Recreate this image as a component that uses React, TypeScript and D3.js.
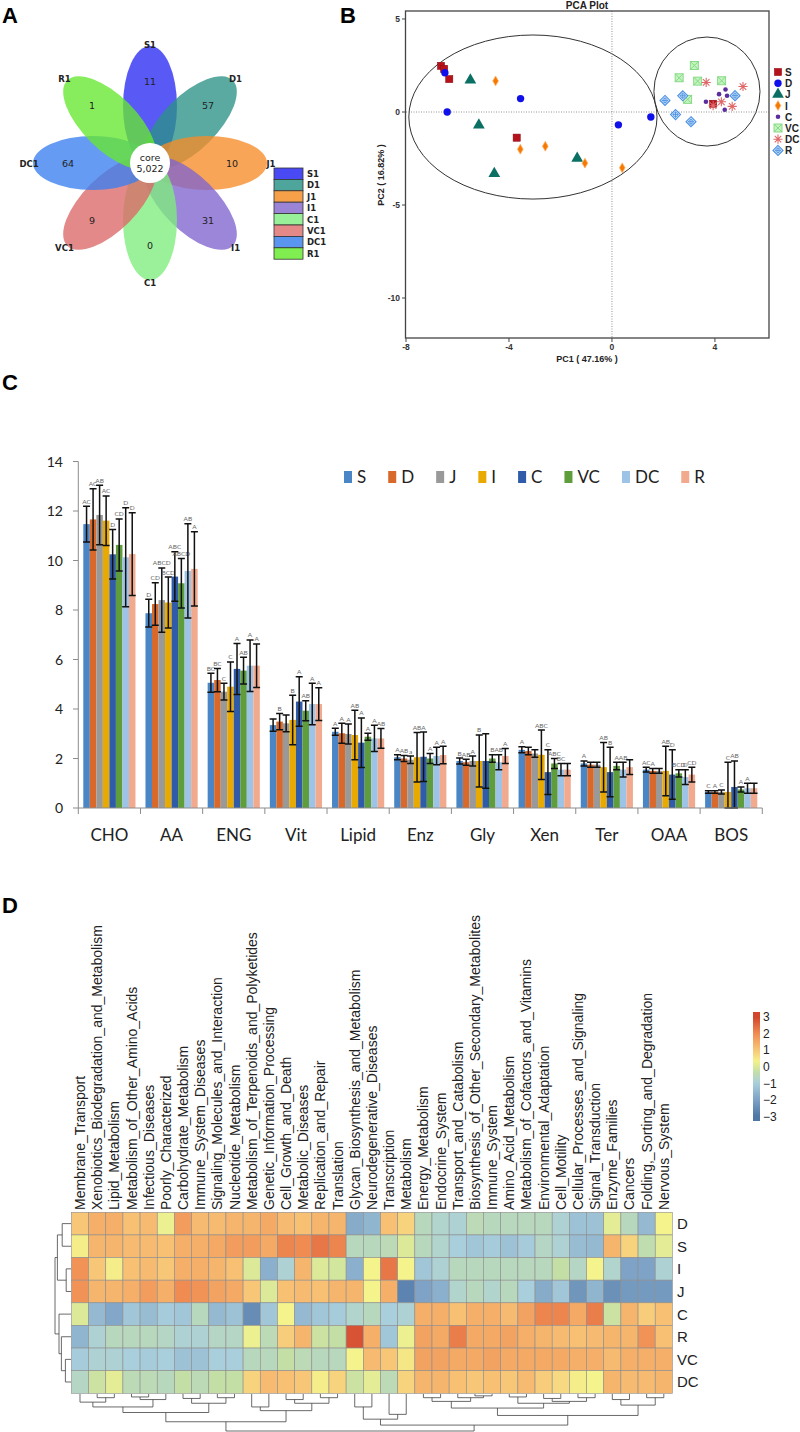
import React from 'react';
import * as d3 from 'd3';

// ---------------- Panel A: flower Venn ----------------
const vennSets = ['S1', 'D1', 'J1', 'I1', 'C1', 'VC1', 'DC1', 'R1'];
const vennUnique = [11, 57, 10, 31, 0, 9, 64, 1];
const vennPetalColors = ['#2a2af4', '#2c9288', '#f68c28', '#8064ce', '#7eed7c', '#dc6868', '#3a7ff0', '#66e830'];
const vennLegendColors = ['#4a4af5', '#4ea59c', '#f7a04a', '#9b84d6', '#98f098', '#e48888', '#5a96f0', '#80ee50'];
const vennCoreLabel = 'core';
const vennCoreCount = '5,022';

// ---------------- Panel B: PCA ----------------
const pcaGroups = ['S', 'D', 'J', 'I', 'C', 'VC', 'DC', 'R'];
const pcaS = [[-6.64, 2.48], [-6.52, 2.32], [-6.32, 1.77], [-3.70, -1.38], [3.93, 0.44]];
const pcaD = [[-6.49, 2.11], [-6.40, 0.0], [-3.55, 0.72], [0.25, -0.69], [1.51, -0.27]];
const pcaJ = [[-5.50, 1.72], [-5.17, -0.70], [-4.57, -3.31], [-1.35, -2.49]];
const pcaI = [[-4.52, 1.67], [-3.56, -2.0], [-2.59, -1.84], [-1.05, -2.75], [0.40, -3.0]];
const pcaC = [[3.65, 0.55], [4.16, 0.96], [4.41, 1.21], [4.47, 0.87], [4.38, 0.12]];
const pcaVC = [[3.20, 2.50], [2.61, 1.84], [3.33, 1.66], [4.26, 1.68], [2.94, 0.68]];
const pcaDC = [[3.66, 1.59], [5.09, 1.37], [4.25, 0.55], [4.67, 0.30], [3.93, 0.34]];
const pcaR = [[2.06, 0.62], [2.75, 0.87], [2.47, -0.14], [3.07, -0.52], [4.78, 0.88]];
const pcaPoints = [pcaS, pcaD, pcaJ, pcaI, pcaC, pcaVC, pcaDC, pcaR];
const pcaXTicks = [-8, -4, 0, 4];
const pcaYTicks = [5, 0, -5, -10];
const ellipseCx = [-3.07, 3.69];
const ellipseCy = [-0.27, 1.10];
const ellipseRx = [4.82, 2.06];
const ellipseRy = [4.41, 2.93];

// ---------------- Panel C: bars ----------------
const barCategories = ['CHO', 'AA', 'ENG', 'Vit', 'Lipid', 'Enz', 'Gly', 'Xen', 'Ter', 'OAA', 'BOS'];
const barSeries = ['S', 'D', 'J', 'I', 'C', 'VC', 'DC', 'R'];
const barColors = ['#4a86c5', '#d9692a', '#999999', '#e8a900', '#2f5ba8', '#5e9c3c', '#9dc3e6', '#f2aa8e'];
const meanS = [11.47, 7.87, 5.06, 3.35, 3.08, 2.05, 1.90, 2.35, 1.80, 1.55, 0.65];
const meanD = [11.66, 8.24, 5.17, 3.49, 3.02, 2.00, 1.85, 2.30, 1.75, 1.50, 0.65];
const meanJ = [11.84, 8.40, 4.70, 3.42, 2.99, 1.95, 1.90, 2.20, 1.75, 1.50, 0.65];
const meanI = [11.61, 8.30, 4.90, 3.56, 2.95, 2.05, 1.90, 2.15, 1.65, 1.50, 0.65];
const meanC = [10.25, 9.35, 5.62, 4.30, 2.64, 2.07, 1.90, 1.45, 1.45, 1.35, 0.85];
const meanVC = [10.63, 9.08, 5.55, 3.93, 2.88, 2.00, 2.00, 1.80, 1.70, 1.40, 0.75];
const meanDC = [10.13, 9.58, 5.75, 4.20, 2.81, 2.10, 1.85, 1.55, 1.55, 1.25, 0.80];
const meanR = [10.26, 9.66, 5.75, 4.20, 2.81, 2.14, 2.10, 1.55, 1.65, 1.35, 0.80];
const errS = [0.72, 0.56, 0.38, 0.25, 0.14, 0.10, 0.12, 0.12, 0.10, 0.10, 0.05];
const errD = [1.24, 0.86, 0.47, 0.33, 0.40, 0.12, 0.12, 0.15, 0.10, 0.10, 0.05];
const errJ = [1.20, 1.30, 0.34, 0.34, 0.40, 0.15, 0.20, 0.15, 0.10, 0.10, 0.08];
const errI = [1.00, 1.03, 1.00, 1.00, 1.00, 1.00, 1.05, 1.00, 1.00, 1.00, 1.20];
const errC = [1.00, 1.00, 1.03, 1.00, 1.00, 1.00, 1.10, 0.90, 1.00, 1.00, 1.05];
const errVC = [1.05, 1.00, 0.54, 0.40, 0.14, 0.20, 0.15, 0.20, 0.15, 0.15, 0.10];
const errDC = [2.00, 1.90, 1.04, 0.84, 0.53, 0.35, 0.30, 0.25, 0.30, 0.30, 0.20];
const errR = [1.67, 1.50, 0.88, 0.66, 0.40, 0.35, 0.30, 0.25, 0.30, 0.30, 0.20];
const letS = ['AC', 'D', 'BC', '', 'A', 'A', 'B', 'A', 'A', 'AC', 'C'];
const letD = ['AC', 'CD', 'BC', 'B', 'A', 'AB', 'AB', '', '', 'A', 'A'];
const letJ = ['AB', 'ABCD', 'C', '', 'A', 'a', 'A', '', '', '', 'C'];
const letI = ['AC', 'BCD', 'C', 'B', 'AB', 'AB', 'B', 'ABC', 'AB', 'AB', 'C'];
const letC = ['D', 'ABC', 'A', 'A', 'A', 'A', '', 'C', 'B', 'D', 'AB'];
const letVC = ['CD', 'ABCD', 'AB', 'AB', 'A', 'A', 'B', 'ABC', 'A', 'BCD', 'A'];
const letDC = ['D', 'AB', 'A', 'A', 'A', 'A', 'AB', 'BC', 'AB', 'D', 'A'];
const letR = ['D', 'A', 'A', 'A', 'AB', 'A', 'A', '', '', 'CD', ''];
const barMeans = [meanS, meanD, meanJ, meanI, meanC, meanVC, meanDC, meanR];
const barErrs = [errS, errD, errJ, errI, errC, errVC, errDC, errR];
const barLetters = [letS, letD, letJ, letI, letC, letVC, letDC, letR];
const barYTicks = [0, 2, 4, 6, 8, 10, 12, 14];

// ---------------- Panel D: heatmap ----------------
const heatColumns = [
  'Membrane_Transport', 'Xenobiotics_Biodegradation_and_Metabolism', 'Lipid_Metabolism',
  'Metabolism_of_Other_Amino_Acids', 'Infectious_Diseases', 'Poorly_Characterized',
  'Carbohydrate_Metabolism', 'Immune_System_Diseases', 'Signaling_Molecules_and_Interaction',
  'Nucleotide_Metabolism', 'Metabolism_of_Terpenoids_and_Polyketides', 'Genetic_Information_Processing',
  'Cell_Growth_and_Death', 'Metabolic_Diseases', 'Replication_and_Repair', 'Translation',
  'Glycan_Biosynthesis_and_Metabolism', 'Neurodegenerative_Diseases', 'Transcription', 'Metabolism',
  'Energy_Metabolism', 'Endocrine_System', 'Transport_and_Catabolism',
  'Biosynthesis_of_Other_Secondary_Metabolites', 'Immune_System', 'Amino_Acid_Metabolism',
  'Metabolism_of_Cofactors_and_Vitamins', 'Environmental_Adaptation', 'Cell_Motility',
  'Cellular_Processes_and_Signaling', 'Signal_Transduction', 'Enzyme_Families', 'Cancers',
  'Folding,_Sorting_and_Degradation', 'Nervous_System'
];
const heatRows = ['D', 'S', 'I', 'J', 'C', 'R', 'VC', 'DC'];
const heatD = [1.0, 1.4, 1.4, 1.1, 1.2, 0.2, 1.7, 1.2, 1.2, 1.3, 1.3, 1.5, 1.2, 1.1, 1.3, 1.3, -1.8, -1.6, 1.1, 0.8, -0.6, -0.8, -0.9, -0.5, -0.6, -0.6, -0.6, -0.6, -0.9, -1.3, -1.3, 0.1, -0.6, -1.5, 0.3];
const heatS = [0.4, 1.3, 1.3, 1.2, 1.2, 1.1, 1.4, 1.4, 1.5, 1.7, 1.7, 1.5, 2.1, 2.0, 2.3, 2.1, -0.6, -0.6, -0.5, 0.0, -0.6, -0.8, -1.0, -1.2, -1.1, -1.3, -1.1, -0.7, -0.9, -1.4, -1.5, 1.3, 0.8, -0.4, 0.1];
const heatI = [1.9, 1.0, 0.4, 1.1, 1.2, 1.0, 1.4, 1.4, 1.3, 1.1, 0.0, -1.7, -0.9, 1.3, 0.0, -0.1, -1.7, 0.3, 2.3, 0.3, -1.2, -0.9, -0.6, -0.6, -0.6, -0.6, -0.6, -0.6, -0.3, -0.7, 0.3, -0.8, -2.0, -2.0, -0.9];
const heatJ = [1.9, 1.3, 1.3, 1.4, 1.7, 1.4, 2.0, 1.9, 1.6, 1.5, 1.0, 0.0, 1.1, 1.2, 1.1, 1.3, 1.3, 0.3, 1.4, -2.7, -2.0, -1.7, -0.8, -0.6, -0.8, -0.6, -1.0, -1.8, -1.2, -2.3, -1.6, -2.4, -2.2, -2.2, -2.2];
const heatC = [0.0, -1.5, -1.9, -1.2, -1.4, -1.1, -1.2, -0.6, -1.5, -1.3, -2.5, -1.2, 0.3, -1.5, -1.2, -1.1, -0.8, -0.6, -1.0, -0.9, 1.4, 1.4, 1.1, 1.4, 1.4, 1.2, 1.6, 2.1, 2.1, 1.5, 2.2, -0.2, 1.3, 0.9, 1.1];
const heatR = [-1.6, -0.9, -0.6, -0.6, -0.6, -0.7, -0.9, -0.9, -0.7, -0.7, 0.2, -0.5, 0.9, 1.3, -0.2, -0.3, 2.8, 1.4, -1.2, 0.2, 1.6, 1.5, 2.2, 1.5, 1.5, 1.6, 1.4, 1.3, 1.2, 1.1, 1.2, 1.3, 1.3, 1.9, 1.1];
const heatVC = [-1.1, -0.9, -0.9, -1.0, -1.1, -1.0, -1.3, -1.3, -1.0, -1.0, -0.6, -0.6, -0.3, -0.5, -0.6, -0.6, 0.3, 1.2, 1.0, 0.5, 1.6, 1.6, 1.5, 1.5, 1.6, 1.5, 1.5, 1.5, 1.5, 1.4, 1.4, 1.2, 1.4, 1.4, 1.4];
const heatDC = [-0.7, -0.2, 0.1, -0.5, -0.5, -0.6, -0.3, -0.5, -0.3, -0.3, 0.8, 1.2, 1.1, 1.0, 0.4, 0.8, -0.2, 0.1, -0.5, 0.8, 1.3, 1.3, 1.1, 1.0, 1.1, 1.0, 1.2, 0.9, 0.7, 0.4, 0.3, 1.3, 1.2, 1.2, 1.3];
const heatValues = [heatD, heatS, heatI, heatJ, heatC, heatR, heatVC, heatDC];
const heatStops = [-3, -2, -1, -0.3, 0.3, 1, 2, 3];
const heatPalette = ['#4f77a6', '#7ea3c6', '#aacfdc', '#c3dfa6', '#f4f38c', '#f8c677', '#f08c52', '#d1452b'];
const heatLegendTicks = [3, 2, 1, 0, -1, -2, -3];
// dendrograms: [left, right, height]
type TNode = number | [TNode, TNode, number];
const rowTree: TNode = [[[0, 1, 0.55], [2, 3, 0.3], 0.85], [4, [5, [6, 7, 0.35], 0.6], 0.75], 1.0];
const colTree: TNode = [
  [
    [[[0, [1, 2, 0.1], 0.22], [[3, 4, 0.08], 5, 0.15], 0.35], [[6, 7, 0.12], [8, 9, 0.1], 0.25], 0.5],
    [[10, 11, 0.35], [[12, 13, 0.15], [14, 15, 0.1], 0.25], 0.45],
    0.75
  ],
  [
    [[16, 17, 0.35], [18, 19, 0.55], 0.68],
    [
      [[[20, 21, 0.1], [22, [23, 24, 0.05], 0.1], 0.2], [[25, 26, 0.08], [[27, 28, 0.12], [29, 30, 0.1], 0.2], 0.25], 0.38],
      [[31, 32, 0.15], [33, 34, 0.1], 0.3],
      0.58
    ],
    0.84
  ],
  1.0
];

const FONT_B = 'Liberation Sans, Arial, sans-serif';
const FONT_C = 'Lato, Open Sans, sans-serif';
const FONT_V = 'DejaVu Sans, Verdana, sans-serif';

let _ctx: CanvasRenderingContext2D | null = null;
function textW(s: string, font: string) {
  if (!_ctx) _ctx = document.createElement('canvas').getContext('2d');
  if (!_ctx) return s.length * 8;
  _ctx.font = font;
  return _ctx.measureText(s).width;
}

function layoutTree(node: TNode, leafPos: (i: number) => number, hPos: (h: number) => number,
  paths: string[], orient: 'v' | 'h'): { p: number; q: number } {
  if (typeof node === 'number') return { p: leafPos(node), q: hPos(0) };
  const l = layoutTree(node[0], leafPos, hPos, paths, orient);
  const r = layoutTree(node[1], leafPos, hPos, paths, orient);
  const q = hPos(node[2]);
  const p = (l.p + r.p) / 2;
  if (orient === 'v') paths.push(`M${l.p},${l.q}V${q}H${r.p}V${r.q}`);
  else paths.push(`M${l.q},${l.p}H${q}V${r.p}H${r.q}`);
  return { p, q };
}

function PanelA() {
  const cx = 150, cy = 163;
  const a = 60, b = 27, d = 57;
  const ang = (i: number) => -90 + 45 * i;
  const rad = (deg: number) => (deg * Math.PI) / 180;
  return (
    <g>
      <text x={2} y={23} fontFamily={FONT_B} fontWeight="bold" fontSize={22}>A</text>
      {vennSets.map((s, i) => {
        const t = ang(i);
        const ex = cx + d * Math.cos(rad(t));
        const ey = cy + d * Math.sin(rad(t));
        return (
          <ellipse key={s} cx={ex} cy={ey} rx={a} ry={b} transform={`rotate(${t},${ex},${ey})`}
            fill={vennPetalColors[i]} fillOpacity={0.78} />
        );
      })}
      <circle cx={cx} cy={cy} r={20} fill="#fff" />
      <text x={cx} y={cy - 2} textAnchor="middle" fontFamily={FONT_V} fontSize={9.5} fill="#222">{vennCoreLabel}</text>
      <text x={cx} y={cy + 9} textAnchor="middle" fontFamily={FONT_V} fontSize={9.5} fill="#222">{vennCoreCount}</text>
      {vennSets.map((s, i) => {
        const t = rad(ang(i));
        const nx = cx + 82 * Math.cos(t);
        const ny = cy + 82 * Math.sin(t);
        const lx = cx + 121 * Math.cos(t);
        const ly = cy + 119 * Math.sin(t);
        return (
          <g key={'t' + s}>
            <text x={nx} y={ny + 3.5} textAnchor="middle" fontFamily={FONT_V} fontSize={9.5} fill="#222">{vennUnique[i]}</text>
            <text x={lx} y={ly + 3.5} textAnchor="middle" fontFamily={FONT_V} fontWeight="bold" fontSize={8.5} fill="#222">{s}</text>
          </g>
        );
      })}
      {vennSets.map((s, i) => (
        <g key={'l' + s}>
          <rect x={274} y={168 + i * 11.4} width={29} height={11.4} fill={vennLegendColors[i]} stroke="#333" strokeWidth={0.8} />
          <text x={307} y={168 + i * 11.4 + 9} fontFamily={FONT_V} fontWeight="bold" fontSize={8.5} fill="#222">{s}</text>
        </g>
      ))}
    </g>
  );
}

function pcaMarker(g: string, x: number, y: number, key: string) {
  switch (g) {
    case 'S':
      return <rect key={key} x={x - 3.6} y={y - 3.6} width={7.2} height={7.2} fill="#b5121b" stroke="#8a0a12" strokeWidth={0.5} />;
    case 'D':
      return <circle key={key} cx={x} cy={y} r={3.7} fill="#1010ea" />;
    case 'J':
      return <path key={key} d={d3.symbol(d3.symbolTriangle, 60)() || ''} transform={`translate(${x},${y})`} fill="#0b7064" />;
    case 'I':
      return <path key={key} d={d3.symbol(d3.symbolDiamond, 28)() || ''} transform={`translate(${x},${y})`} fill="#f57900" stroke="#ffb36b" strokeWidth={0.8} />;
    case 'C':
      return <circle key={key} cx={x} cy={y} r={2.3} fill="#5b2d9e" />;
    case 'VC':
      return (
        <g key={key}>
          <rect x={x - 4} y={y - 4} width={8} height={8} fill="#c5f3c0" stroke="#7fd87f" strokeWidth={0.9} />
          <path d={`M${x - 4},${y - 4}L${x + 4},${y + 4}M${x - 4},${y + 4}L${x + 4},${y - 4}`} stroke="#7fd87f" strokeWidth={0.9} />
        </g>
      );
    case 'DC': {
      const r = 4.6;
      const segs = d3.range(4).map((k) => {
        const t = (k * Math.PI) / 4;
        return `M${x - r * Math.cos(t)},${y - r * Math.sin(t)}L${x + r * Math.cos(t)},${y + r * Math.sin(t)}`;
      }).join('');
      return <path key={key} d={segs} stroke="#e06868" strokeWidth={1.1} />;
    }
    case 'R':
      return (
        <g key={key}>
          <path d={`M${x},${y - 5}L${x + 5},${y}L${x},${y + 5}L${x - 5},${y}Z`} fill="#e2efff" stroke="#4a90e2" strokeWidth={1.1} />
          <path d={`M${x},${y - 3.2}V${y + 3.2}M${x - 3.2},${y}H${x + 3.2}`} stroke="#4a90e2" strokeWidth={0.9} />
          <circle cx={x} cy={y} r={2.2} fill="none" stroke="#4a90e2" strokeWidth={0.8} />
        </g>
      );
    default:
      return null;
  }
}

function PanelB() {
  const x = d3.scaleLinear().domain([-8, 6.1]).range([406, 769]);
  const y = d3.scaleLinear().domain([-12.15, 5.43]).range([338, 11]);
  const [x0, x1] = x.range();
  const [y0, y1] = y.range();
  return (
    <g fontFamily={FONT_B}>
      <text x={340} y={23} fontWeight="bold" fontSize={22}>B</text>
      <text x={587} y={9} textAnchor="middle" fontWeight="bold" fontSize={10} fill="#222">PCA Plot</text>
      {ellipseCx.map((c, i) => (
        <ellipse key={'e' + i} cx={x(c)} cy={y(ellipseCy[i])}
          rx={x(c + ellipseRx[i]) - x(c)} ry={y(ellipseCy[i]) - y(ellipseCy[i] + ellipseRy[i])}
          fill="none" stroke="#333" strokeWidth={1} />
      ))}
      <line x1={x(0)} x2={x(0)} y1={y1} y2={y0} stroke="#777" strokeWidth={0.8} strokeDasharray="1,1.5" />
      <line x1={x0} x2={x1} y1={y(0)} y2={y(0)} stroke="#777" strokeWidth={0.8} strokeDasharray="1,1.5" />
      {pcaGroups.map((g, gi) => pcaPoints[gi].map((p, pi) => pcaMarker(g, x(p[0]), y(p[1]), `${g}${pi}`)))}
      <rect x={x0 - 0.5} y={y1} width={x1 - x0 + 0.5} height={y0 - y1} fill="none" stroke="#444" strokeWidth={1.3} />
      {pcaYTicks.map((t) => (
        <g key={'yt' + t}>
          <line x1={x0 - 4} x2={x0} y1={y(t)} y2={y(t)} stroke="#444" />
          <text x={x0 - 6} y={y(t) + 3} textAnchor="end" fontWeight="bold" fontSize={8.5} fill="#333">{t}</text>
        </g>
      ))}
      {pcaXTicks.map((t) => (
        <g key={'xt' + t}>
          <line x1={x(t)} x2={x(t)} y1={y0} y2={y0 + 4} stroke="#444" />
          <text x={x(t)} y={y0 + 12} textAnchor="middle" fontWeight="bold" fontSize={8.5} fill="#333">{t}</text>
        </g>
      ))}
      <text x={587} y={362} textAnchor="middle" fontWeight="bold" fontSize={9} fill="#222">PC1 ( 47.16% )</text>
      <text transform="translate(384,175) rotate(-90)" textAnchor="middle" fontWeight="bold" fontSize={9} fill="#222">PC2 ( 16.82% )</text>
      {pcaGroups.map((g, i) => (
        <g key={'lg' + g}>
          {pcaMarker(g, 778, 72 + i * 11.2, 'lm' + g)}
          <text x={785} y={72 + i * 11.2 + 4} fontWeight="bold" fontSize={10} fill="#222">{g}</text>
        </g>
      ))}
    </g>
  );
}

function PanelC() {
  const xc = d3.scaleBand().domain(barCategories).range([78.3, 762.3]).padding(0);
  const xs = d3.scaleBand().domain(barSeries).range([5, xc.bandwidth() - 5]).padding(0);
  const y = d3.scaleLinear().domain([0, 14]).range([808, 461.5]);
  const axisColor = '#8c8c8c';
  const legendFont = `17px ${FONT_C}`;
  let lx = 344;
  const legendItems = barSeries.map((s, i) => {
    const item = { s, i, x: lx };
    lx += 13 + textW(s, legendFont) + 22;
    return item;
  });
  return (
    <g fontFamily={FONT_C}>
      <text x={2} y={390} fontFamily={FONT_B} fontWeight="bold" fontSize={22}>C</text>
      {barYTicks.map((t) => (
        <g key={'yt' + t}>
          <line x1={73} x2={78.3} y1={y(t)} y2={y(t)} stroke={axisColor} />
          <text x={63} y={y(t) + 5} textAnchor="end" fontSize={14} fill="#222">{t}</text>
        </g>
      ))}
      {barCategories.map((c, ci) => (
        <g key={c}>
          {barSeries.map((s, si) => {
            const bx = (xc(c) || 0) + (xs(s) || 0);
            const bw = xs.bandwidth();
            const m = barMeans[si][ci];
            return (
              <rect key={s} x={bx} y={y(m)} width={bw} height={y(0) - y(m)} fill={barColors[si]} />
            );
          })}
        </g>
      ))}
      {barCategories.map((c, ci) => (
        <g key={'e' + c}>
          {barSeries.map((s, si) => {
            const cxp = (xc(c) || 0) + (xs(s) || 0) + xs.bandwidth() / 2;
            const m = barMeans[si][ci];
            const e = barErrs[si][ci];
            const top = y(m + e);
            const bot = y(Math.max(0, m - e));
            const lt = barLetters[si][ci];
            return (
              <g key={s}>
                <path d={`M${cxp},${top}V${bot}M${cxp - 3.5},${top}H${cxp + 3.5}M${cxp - 3.5},${bot}H${cxp + 3.5}`}
                  stroke="#111" strokeWidth={1.5} fill="none" />
                {lt && <text x={cxp} y={top - 2.5} textAnchor="middle" fontSize={6.5} fill="#666">{lt}</text>}
              </g>
            );
          })}
        </g>
      ))}
      <line x1={78.3} x2={78.3} y1={y(14)} y2={y(0)} stroke={axisColor} />
      <line x1={78.3} x2={762.3} y1={y(0)} y2={y(0)} stroke={axisColor} />
      {d3.range(barCategories.length + 1).map((k) => {
        const xx = 78.3 + k * xc.step();
        return <line key={'xt' + k} x1={xx} x2={xx} y1={y(0)} y2={y(0) + 6} stroke={axisColor} />;
      })}
      {barCategories.map((c) => (
        <text key={'xl' + c} x={(xc(c) || 0) + xc.bandwidth() / 2} y={841} textAnchor="middle" fontSize={17} fill="#222">{c}</text>
      ))}
      {legendItems.map((it) => (
        <g key={'lg' + it.s}>
          <rect x={it.x} y={471} width={8} height={12} fill={barColors[it.i]} />
          <text x={it.x + 13} y={483} fontSize={17} fill="#222">{it.s}</text>
        </g>
      ))}
    </g>
  );
}

function PanelD() {
  const x = d3.scaleBand().domain(heatColumns).range([71.4, 672.4]);
  const y = d3.scaleBand().domain(heatRows).range([1212.3, 1393.3]);
  const color = d3.scaleLinear<string>().domain(heatStops).range(heatPalette).clamp(true);
  const legY = d3.scaleLinear().domain([-3.3, 3.3]).range([1121, 1012]);
  const rowPaths: string[] = [];
  layoutTree(rowTree, (i) => (y(heatRows[i]) || 0) + y.bandwidth() / 2, (h) => 71 - 16 * h, rowPaths, 'h');
  const colPaths: string[] = [];
  layoutTree(colTree, (i) => (x(heatColumns[i]) || 0) + x.bandwidth() / 2, (h) => 1394 + 37 * h, colPaths, 'v');
  const gradStops = d3.range(0, 1.0001, 0.05);
  return (
    <g fontFamily={FONT_B}>
      <text x={2} y={913} fontWeight="bold" fontSize={22}>D</text>
      <defs>
        <linearGradient id="hmgrad" x1="0" y1="1" x2="0" y2="0">
          {gradStops.map((t) => (
            <stop key={t} offset={t} stopColor={color(legY.domain()[0] + t * (legY.domain()[1] - legY.domain()[0]))} />
          ))}
        </linearGradient>
      </defs>
      {heatColumns.map((c) => {
        const cxp = (x(c) || 0) + x.bandwidth() / 2 + 5;
        return (
          <text key={c} x={cxp} y={1210} transform={`rotate(-90,${cxp},1210)`} fontSize={14} fill="#222">{c}</text>
        );
      })}
      {heatRows.map((r, ri) => heatColumns.map((c, ci) => (
        <rect key={r + c} x={x(c)} y={y(r)} width={x.bandwidth()} height={y.bandwidth()}
          fill={color(heatValues[ri][ci])} stroke="#8d8d8d" strokeWidth={0.6} />
      )))}
      {heatRows.map((r) => (
        <text key={'r' + r} x={677} y={(y(r) || 0) + y.bandwidth() / 2 + 5.5} fontSize={15} fill="#222">{r}</text>
      ))}
      <path d={rowPaths.join('')} stroke="#444" strokeWidth={0.8} fill="none" />
      <path d={colPaths.join('')} stroke="#444" strokeWidth={0.8} fill="none" />
      <rect x={753} y={legY(3.3)} width={7} height={legY(-3.3) - legY(3.3)} fill="url(#hmgrad)" />
      {heatLegendTicks.map((t) => (
        <text key={'lt' + t} x={763} y={legY(t) + 4.5} fontSize={12} fill="#222">{t < 0 ? '\u2212' + Math.abs(t) : String(t)}</text>
      ))}
    </g>
  );
}

export default function App() {
  return (
    <div style={{ position: 'absolute', left: 0, top: 0 }}>
      <svg width={800} height={1432} viewBox="0 0 800 1432" style={{ display: 'block', background: '#fff' }}>
        <rect x={0} y={0} width={800} height={1432} fill="#fff" />
        <PanelA />
        <PanelB />
        <PanelC />
        <PanelD />
      </svg>
    </div>
  );
}
